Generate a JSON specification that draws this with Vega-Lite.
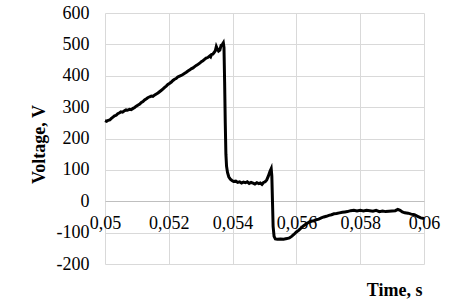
{
  "$schema": "https://vega.github.io/schema/vega-lite/v6.json",
  "width": 319,
  "height": 251,
  "autosize": {"type": "none"},
  "padding": {"left": 105, "top": 13, "right": 31, "bottom": 41},
  "background": "white",
  "config": {
    "view": {"stroke": null},
    "font": "Liberation Serif",
    "axis": {"labelFont": "Liberation Serif", "titleFont": "Liberation Serif", "labelColor": "#000000", "titleColor": "#000000", "gridColor": "#d9d9d9", "gridWidth": 1}
  },
  "data": {
    "values": [
      {"t": 0.05000, "v": 257}, {"t": 0.05005, "v": 255}, {"t": 0.05010, "v": 258}, {"t": 0.05015, "v": 259},
      {"t": 0.05020, "v": 264}, {"t": 0.05025, "v": 268}, {"t": 0.05030, "v": 272}, {"t": 0.05035, "v": 274},
      {"t": 0.05040, "v": 279}, {"t": 0.05046, "v": 282}, {"t": 0.05050, "v": 285}, {"t": 0.05055, "v": 284},
      {"t": 0.05062, "v": 289}, {"t": 0.05066, "v": 291}, {"t": 0.05070, "v": 290}, {"t": 0.05077, "v": 293},
      {"t": 0.05082, "v": 292}, {"t": 0.05088, "v": 296}, {"t": 0.05093, "v": 299}, {"t": 0.05098, "v": 303},
      {"t": 0.05104, "v": 307}, {"t": 0.05109, "v": 310}, {"t": 0.05114, "v": 315}, {"t": 0.05119, "v": 318},
      {"t": 0.05124, "v": 323}, {"t": 0.05130, "v": 327}, {"t": 0.05134, "v": 330}, {"t": 0.05140, "v": 333},
      {"t": 0.05145, "v": 335}, {"t": 0.05150, "v": 334}, {"t": 0.05156, "v": 339}, {"t": 0.05161, "v": 342},
      {"t": 0.05166, "v": 345}, {"t": 0.05171, "v": 349}, {"t": 0.05176, "v": 353}, {"t": 0.05182, "v": 358},
      {"t": 0.05187, "v": 363}, {"t": 0.05192, "v": 367}, {"t": 0.05197, "v": 372}, {"t": 0.05203, "v": 376},
      {"t": 0.05208, "v": 380}, {"t": 0.05213, "v": 385}, {"t": 0.05218, "v": 389}, {"t": 0.05223, "v": 391},
      {"t": 0.05228, "v": 396}, {"t": 0.05234, "v": 399}, {"t": 0.05239, "v": 401}, {"t": 0.05244, "v": 404},
      {"t": 0.05250, "v": 408}, {"t": 0.05255, "v": 411}, {"t": 0.05260, "v": 415}, {"t": 0.05265, "v": 418},
      {"t": 0.05270, "v": 422}, {"t": 0.05276, "v": 425}, {"t": 0.05281, "v": 429}, {"t": 0.05286, "v": 433},
      {"t": 0.05291, "v": 436}, {"t": 0.05297, "v": 440}, {"t": 0.05302, "v": 445}, {"t": 0.05307, "v": 448},
      {"t": 0.05312, "v": 452}, {"t": 0.05317, "v": 456}, {"t": 0.05322, "v": 458}, {"t": 0.05328, "v": 463},
      {"t": 0.05331, "v": 460}, {"t": 0.05334, "v": 468}, {"t": 0.05338, "v": 469}, {"t": 0.05342, "v": 474},
      {"t": 0.05346, "v": 480}, {"t": 0.05349, "v": 493}, {"t": 0.05352, "v": 486}, {"t": 0.05356, "v": 479},
      {"t": 0.05360, "v": 482}, {"t": 0.05364, "v": 497}, {"t": 0.05368, "v": 500}, {"t": 0.05371, "v": 505},
      {"t": 0.05373, "v": 490}, {"t": 0.05375, "v": 380}, {"t": 0.05377, "v": 250}, {"t": 0.05379, "v": 150},
      {"t": 0.05381, "v": 112}, {"t": 0.05384, "v": 92}, {"t": 0.05388, "v": 78}, {"t": 0.05393, "v": 70},
      {"t": 0.05398, "v": 66}, {"t": 0.05403, "v": 63}, {"t": 0.05410, "v": 64}, {"t": 0.05416, "v": 60},
      {"t": 0.05422, "v": 62}, {"t": 0.05428, "v": 58}, {"t": 0.05434, "v": 61}, {"t": 0.05440, "v": 59},
      {"t": 0.05446, "v": 62}, {"t": 0.05452, "v": 57}, {"t": 0.05458, "v": 60}, {"t": 0.05464, "v": 58},
      {"t": 0.05470, "v": 55}, {"t": 0.05476, "v": 59}, {"t": 0.05482, "v": 56}, {"t": 0.05487, "v": 58},
      {"t": 0.05492, "v": 54}, {"t": 0.05497, "v": 60}, {"t": 0.05502, "v": 62}, {"t": 0.05507, "v": 68},
      {"t": 0.05512, "v": 80}, {"t": 0.05517, "v": 95}, {"t": 0.05521, "v": 104}, {"t": 0.05523, "v": 80},
      {"t": 0.05525, "v": 0}, {"t": 0.05527, "v": -80}, {"t": 0.05530, "v": -112}, {"t": 0.05534, "v": -120},
      {"t": 0.05540, "v": -121}, {"t": 0.05550, "v": -120}, {"t": 0.05560, "v": -121}, {"t": 0.05570, "v": -119},
      {"t": 0.05578, "v": -117}, {"t": 0.05585, "v": -112}, {"t": 0.05592, "v": -106}, {"t": 0.05600, "v": -98},
      {"t": 0.05607, "v": -93}, {"t": 0.05614, "v": -86}, {"t": 0.05620, "v": -80}, {"t": 0.05627, "v": -75},
      {"t": 0.05634, "v": -70}, {"t": 0.05641, "v": -66}, {"t": 0.05648, "v": -63}, {"t": 0.05655, "v": -62},
      {"t": 0.05662, "v": -59}, {"t": 0.05670, "v": -57}, {"t": 0.05678, "v": -53}, {"t": 0.05686, "v": -50},
      {"t": 0.05694, "v": -48}, {"t": 0.05702, "v": -45}, {"t": 0.05710, "v": -43}, {"t": 0.05718, "v": -40},
      {"t": 0.05726, "v": -39}, {"t": 0.05735, "v": -37}, {"t": 0.05744, "v": -35}, {"t": 0.05752, "v": -34},
      {"t": 0.05760, "v": -33}, {"t": 0.05770, "v": -30}, {"t": 0.05780, "v": -29}, {"t": 0.05790, "v": -31},
      {"t": 0.05800, "v": -29}, {"t": 0.05810, "v": -31}, {"t": 0.05820, "v": -29}, {"t": 0.05830, "v": -30},
      {"t": 0.05840, "v": -32}, {"t": 0.05850, "v": -29}, {"t": 0.05860, "v": -33}, {"t": 0.05870, "v": -31},
      {"t": 0.05880, "v": -33}, {"t": 0.05890, "v": -32}, {"t": 0.05900, "v": -31}, {"t": 0.05910, "v": -30},
      {"t": 0.05918, "v": -26}, {"t": 0.05925, "v": -29}, {"t": 0.05932, "v": -34}, {"t": 0.05940, "v": -37},
      {"t": 0.05950, "v": -38}, {"t": 0.05960, "v": -41}, {"t": 0.05970, "v": -43}, {"t": 0.05980, "v": -48},
      {"t": 0.05990, "v": -53}, {"t": 0.06000, "v": -55}
    ]
  },
  "mark": {"type": "line", "color": "#000000", "strokeWidth": 3, "interpolate": "linear"},
  "encoding": {
    "x": {
      "field": "t", "type": "quantitative",
      "scale": {"domain": [0.05, 0.06], "nice": false, "zero": false},
      "axis": {
        "values": [0.05, 0.052, 0.054, 0.056, 0.058, 0.06],
        "labelExpr": "replace('' + datum.value, '.', ',')",
        "offset": -63,
        "domain": true, "domainColor": "#bfbfbf", "domainWidth": 1,
        "ticks": false, "tickSize": 0,
        "labelFont": "Liberation Serif",
        "labelPadding": 13, "labelFontSize": 18, "labelFlush": false, "labelOverlap": false, "labelBound": false,
        "grid": true,
        "title": "Time, s", "titleFont": "Liberation Serif", "titleFontSize": 18, "titleFontWeight": "bold",
        "titleAnchor": null, "titleAlign": "right", "titleBaseline": "middle",
        "titleX": 317, "titleY": 89
      }
    },
    "y": {
      "field": "v", "type": "quantitative",
      "scale": {"domain": [-200, 600], "nice": false, "zero": false},
      "axis": {
        "values": [-200, -100, 0, 100, 200, 300, 400, 500, 600],
        "labelExpr": "'' + datum.value",
        "domain": false, "ticks": false, "tickSize": 0,
        "labelFont": "Liberation Serif",
        "labelPadding": 16, "labelFontSize": 18, "labelOverlap": false, "labelBound": false,
        "grid": true,
        "title": "Voltage, V", "titleFont": "Liberation Serif", "titleFontSize": 18, "titleFontWeight": "bold",
        "titleAngle": -90, "titleAlign": "center", "titleBaseline": "middle",
        "titleX": -66, "titleY": 131
      }
    }
  }
}
